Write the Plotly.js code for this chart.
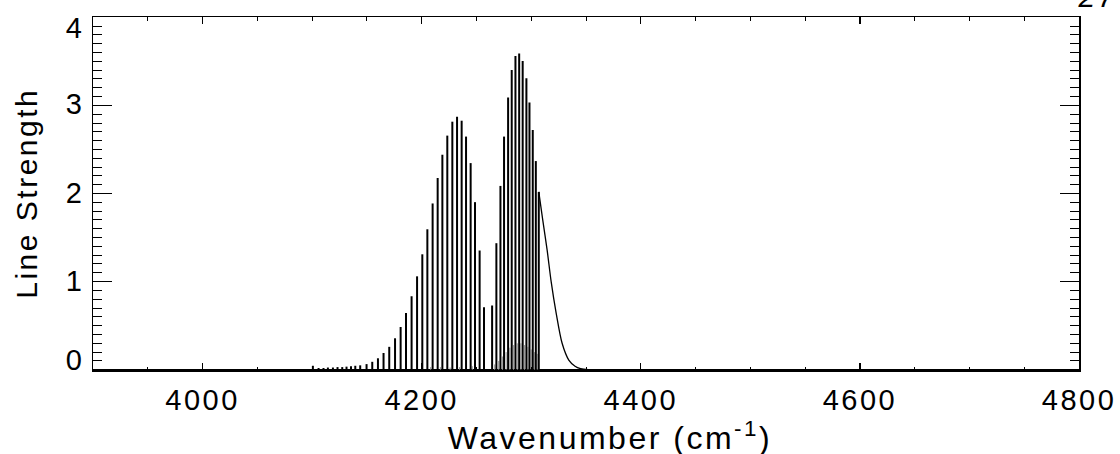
<!DOCTYPE html>
<html>
<head>
<meta charset="utf-8">
<script src="https://cdn.plot.ly/plotly-3.0.1.min.js"></script>
<style>
  html, body { margin: 0; padding: 0; background: #fff; }
  #chart { width: 1120px; height: 454px; }
  .main-svg text { letter-spacing: 2.5px; }
</style>
</head>
<body>
<div id="chart"></div>
<script>
// P-branch line positions (cm^-1) and strengths
const pWn = [4100.7, 4105.9, 4110.4, 4114.4, 4119.0, 4123.2, 4127.5, 4131.4, 4135.5, 4139.4, 4143.9, 4149.7, 4154.9, 4160.1, 4165.2, 4170.4, 4175.7, 4180.8, 4185.7, 4190.8, 4195.8, 4200.6, 4205.2, 4210.0, 4214.6, 4218.9, 4223.4, 4228.0, 4232.3, 4236.5, 4240.5, 4244.7, 4248.7, 4252.9, 4256.9];
const pS  = [0.045, 0.02, 0.02, 0.025, 0.025, 0.03, 0.03, 0.035, 0.04, 0.045, 0.05, 0.064, 0.09, 0.13, 0.19, 0.26, 0.357, 0.485, 0.643, 0.834, 1.06, 1.31, 1.594, 1.887, 2.176, 2.44, 2.657, 2.815, 2.871, 2.826, 2.646, 2.345, 1.902, 1.353, 0.71];
// R-branch
const rWn = [4264.3, 4268.2, 4271.9, 4275.2, 4278.9, 4282.2, 4285.6, 4289.0, 4292.2, 4295.6, 4298.4, 4301.4, 4304.2, 4306.9];
const rS  = [0.729, 1.436, 2.086, 2.646, 3.089, 3.401, 3.559, 3.59, 3.503, 3.308, 3.033, 2.721, 2.368, 2.018];
// weak (hot band) lines
const hotWn = [4208.2, 4217.1, 4226.0, 4234.5, 4246.2, 4266.6, 4270.3, 4273.7, 4277.1, 4280.5, 4283.9, 4287.3, 4290.6, 4293.9, 4297.0, 4300.0, 4302.9, 4305.5];
const hotS  = [0.03, 0.03, 0.025, 0.03, 0.04, 0.06, 0.1, 0.15, 0.2, 0.25, 0.28, 0.3, 0.3, 0.28, 0.26, 0.23, 0.2, 0.18];
// continuum tail after the band head
const tailWn = [4306.9, 4310.5, 4314.5, 4318.2, 4322.8, 4328.2, 4334.3, 4340.0, 4345.0, 4352.0, 4360, 4800];
const tailS  = [2.018, 1.70, 1.36, 1.00, 0.64, 0.30, 0.11, 0.04, 0.012, 0.0, 0.0, 0.0];
// baseline of spectrum
const baseWn = [3900, 4800];
const baseS  = [0, 0];

const xTickVals = [4000, 4200, 4400, 4600, 4800];
const yTickVals = [0, 1, 2, 3, 4];

function sticks(wn, s) {
  const x = [], y = [];
  for (let i = 0; i < wn.length; i++) {
    x.push(wn[i], wn[i], null);
    y.push(0, s[i], null);
  }
  return {x, y};
}

const main = sticks(pWn.concat(rWn), pS.concat(rS));
const hot = sticks(hotWn, hotS);

const FONT = '"Liberation Sans", Arial, Helvetica, sans-serif';

const traces = [
  {x: baseWn, y: baseS, mode: 'lines', line: {color: '#000', width: 1.5}, hoverinfo: 'skip'},
  {x: hot.x, y: hot.y, mode: 'lines', line: {color: '#999', width: 1}, connectgaps: false, hoverinfo: 'skip'},
  {x: main.x, y: main.y, mode: 'lines', line: {color: '#000', width: 2}, connectgaps: false, hoverinfo: 'skip'},
  {x: tailWn, y: tailS, mode: 'lines', line: {color: '#000', width: 1.3, shape: 'spline', smoothing: 0.8}, hoverinfo: 'skip'}
];

// y tick labels: IDL keeps the end labels inside the axis box
const yLabelShift = yTickVals.map(v => v === 4 ? -11 : (v === 0 ? 10 : 1));
const yLabels = yTickVals.map((v, i) => ({
  text: String(v), xref: 'paper', yref: 'y', x: 0, y: v,
  xanchor: 'right', yanchor: 'middle', xshift: -8, yshift: yLabelShift[i],
  showarrow: false, font: {family: FONT, size: 29, color: '#000'}
}));

const layout = {
  width: 1120, height: 454,
  margin: {l: 93, r: 41, t: 17, b: 84, pad: 0},
  paper_bgcolor: '#fff', plot_bgcolor: '#fff',
  showlegend: false,
  font: {family: FONT, color: '#000', size: 29},
  xaxis: {
    range: [3900, 4800],
    tickmode: 'array', tickvals: xTickVals, ticktext: xTickVals.map(String),
    ticks: 'inside', ticklen: 7, tickwidth: 1.3, tickcolor: '#000',
    minor: {dtick: 50, tick0: 3900, ticks: 'inside', ticklen: 3.5, tickwidth: 1, tickcolor: '#000', showgrid: false},
    showline: true, linecolor: '#000', linewidth: 1.5, mirror: 'ticks',
    showgrid: false, zeroline: false,
    tickfont: {family: FONT, size: 29, color: '#000'},
    ticklabelstandoff: 4
  },
  yaxis: {
    range: [-0.003, 4.003],
    tickmode: 'array', tickvals: yTickVals, showticklabels: false,
    ticks: 'inside', ticklen: 19, tickwidth: 1.3, tickcolor: '#000',
    minor: {dtick: 0.1, tick0: 0, ticks: 'inside', ticklen: 9, tickwidth: 1, tickcolor: '#000', showgrid: false},
    showline: true, linecolor: '#000', linewidth: 1.5, mirror: 'ticks',
    showgrid: false, zeroline: false
  },
  annotations: yLabels.concat([
    {text: 'Wavenumber (cm<sup>-1</sup>)', xref: 'paper', yref: 'paper',
     x: (610 - 93) / 986, y: -(436 - 370) / 353, xanchor: 'center', yanchor: 'middle',
     showarrow: false, font: {family: FONT, size: 32, color: '#000'}},
    {text: 'Line Strength', xref: 'paper', yref: 'paper', textangle: -90,
     x: -(93 - 26) / 986, y: 0.5, xanchor: 'center', yanchor: 'middle',
     showarrow: false, font: {family: FONT, size: 30, color: '#000'}},
    {text: '<i>27</i>', xref: 'paper', yref: 'paper',
     x: (1098 - 93) / 986, y: 1 + (17 + 3) / 353, xanchor: 'center', yanchor: 'middle',
     showarrow: false, font: {family: FONT, size: 30, color: '#000'}}
  ])
};

Plotly.newPlot('chart', traces, layout, {staticPlot: true, displayModeBar: false});
</script>
</body>
</html>
